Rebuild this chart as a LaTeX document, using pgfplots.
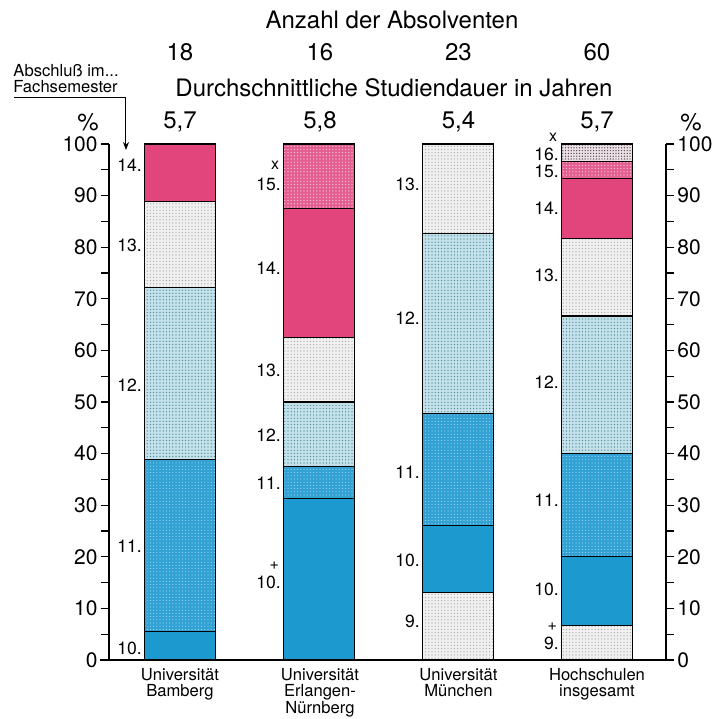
\documentclass[border=0pt]{standalone}
\usepackage{fontspec}
\setmainfont{TeX Gyre Heros}
\usepackage{pgfplots}
\pgfplotsset{compat=1.18}
\usetikzlibrary{patterns,patterns.meta,arrows.meta}
\definecolor{bsolid}{RGB}{28,154,208}
\definecolor{btex}{RGB}{50,162,212}
\definecolor{lblue}{RGB}{196,224,234}
\definecolor{lgray}{RGB}{240,240,240}
\definecolor{pinkc}{RGB}{226,68,124}
\definecolor{pinkl}{RGB}{228,95,145}
\definecolor{lpink}{RGB}{236,224,230}
\newcommand{\seg}[3]{\node[anchor=east,inner sep=0pt,font=\fontsize{8.8}{9}\selectfont] at (axis cs:#1-0.272,#2) {#3};}
\newcommand{\mk}[3]{\node[anchor=east,inner sep=0pt,font=\fontsize{8}{8}\selectfont] at (axis cs:#1-0.285,#2) {#3};}
\begin{document}
\begin{tikzpicture}[x=1pt,y=1pt]
\useasboundingbox (-54.5,-29.5) rectangle (302.5,330);
\begin{axis}[
  at={(0,0)}, anchor=south west,
  scale only axis, width=278.5pt, height=258pt,
  xmin=-0.511, xmax=3.496, ymin=0, ymax=100,
  ybar stacked, bar width=35.5pt,
  axis x line=none, axis y line*=left,
  ytick={0,10,...,100}, minor ytick={5,15,...,95},
  tick align=outside, major tick length=4pt, minor tick length=4pt,
  every tick/.style={black, line width=0.6pt},
  axis line style={line width=0.7pt},
  yticklabel style={font=\fontsize{10.5}{12}\selectfont, inner sep=1.5pt},
  /pgf/number format/assume math mode=true,
  clip=false,
  every axis plot/.append style={draw=black, line width=0.6pt},
]
\addplot[fill=lgray, postaction={pattern={Dots[distance=1.6pt,radius=0.28pt]}, pattern color=gray!80}] coordinates {(0,0) (1,0) (2,13.04) (3,6.67)};
\addplot[fill=bsolid] coordinates {(0,5.56) (1,31.25) (2,13.04) (3,13.33)};
\addplot[fill=btex, postaction={pattern={Dots[distance=1.6pt,radius=0.25pt]}, pattern color=white!70!bsolid}] coordinates {(0,33.33) (1,6.25) (2,21.74) (3,20)};
\addplot[fill=lblue, postaction={pattern={Dots[distance=1.6pt,radius=0.3pt]}, pattern color=teal!60!gray}] coordinates {(0,33.33) (1,12.5) (2,34.78) (3,26.67)};
\addplot[fill=lgray, postaction={pattern={Dots[distance=1.6pt,radius=0.28pt]}, pattern color=gray!80}] coordinates {(0,16.67) (1,12.5) (2,17.39) (3,15)};
\addplot[fill=pinkc] coordinates {(0,11.11) (1,25) (2,0) (3,11.67)};
\addplot[fill=pinkl, postaction={pattern={Dots[distance=1.6pt,radius=0.3pt]}, pattern color=white!80!pinkc}] coordinates {(0,0) (1,12.5) (2,0) (3,3.33)};
\addplot[fill=lpink, postaction={pattern={Dots[distance=1.4pt,radius=0.35pt]}, pattern color=black!70}] coordinates {(0,0) (1,0) (2,0) (3,3.33)};
% segment labels
\seg{0}{95.9}{14.}\seg{0}{80.4}{13.}\seg{0}{53.3}{12.}\seg{0}{22.1}{11.}\seg{0}{2.3}{10.}
\mk{1}{95.8}{x}\seg{1}{92.2}{15.}\seg{1}{75.9}{14.}\seg{1}{56.2}{13.}\seg{1}{43.6}{12.}\seg{1}{34.3}{11.}\mk{1}{18.3}{+}\seg{1}{15.1}{10.}
\seg{2}{92.1}{13.}\seg{2}{66.3}{12.}\seg{2}{36.4}{11.}\seg{2}{19.4}{10.}\seg{2}{7.4}{9.}
\mk{3}{101.3}{x}\seg{3}{98.0}{16.}\seg{3}{94.6}{15.}\seg{3}{87.6}{14.}\seg{3}{74.6}{13.}\seg{3}{53.9}{12.}\seg{3}{31.0}{11.}\seg{3}{13.6}{10.}\mk{3}{6.4}{+}\seg{3}{3.3}{9.}
\end{axis}
\begin{axis}[
  at={(0,0)}, anchor=south west,
  scale only axis, width=278.5pt, height=258pt,
  xmin=-0.511, xmax=3.496, ymin=0, ymax=100,
  axis x line=none, axis y line*=right,
  ytick={0,10,...,100}, minor ytick={5,15,...,95},
  tick align=outside, major tick length=4pt, minor tick length=4pt,
  every tick/.style={black, line width=0.6pt},
  axis line style={line width=0.7pt},
  yticklabel style={font=\fontsize{10.5}{12}\selectfont, inner sep=1.5pt},
  /pgf/number format/assume math mode=true,
]
\end{axis}
\draw[line width=0.7pt] (-4.5,0) -- (282,0);
% top texts
\node[font=\fontsize{12}{14}\selectfont] at (141.5,320) {Anzahl der Absolventen};
\node[font=\fontsize{12}{14}\selectfont] at (142.5,286) {Durchschnittliche Studiendauer in Jahren};
\foreach \xx/\a/\b in {35.5/18/{5,7}, 105.5/16/{5,8}, 174.75/23/{5,4}, 244/60/{5,7}}{
  \node[font=\fontsize{12}{14}\selectfont] at (\xx,304) {\a};
  \node[font=\fontsize{12}{14}\selectfont] at (\xx,269) {\b};
}
\node[font=\fontsize{12}{14}\selectfont] at (-10.5,269) {\%};
\node[font=\fontsize{12}{14}\selectfont] at (291,269) {\%};
% Abschluss annotation
\node[anchor=base west, inner sep=0pt, font=\fontsize{8.3}{8}\selectfont] at (-48,291.8) {Abschluß im...};
\node[anchor=base west, inner sep=0pt, font=\fontsize{8.3}{8}\selectfont] at (-48,283.6) {Fachsemester};
\draw[line width=0.5pt, -{Stealth[length=4pt,width=3pt]}] (-47.5,281) -- (8.5,281) -- (8.5,255);
% category labels
\foreach \xx/\t in {35.5/{Universität\\Bamberg}, 105.5/{Universität\\Erlangen-\\Nürnberg}, 174.75/{Universität\\München}, 244/{Hochschulen\\insgesamt}}{
  \node[anchor=north, align=center, inner sep=0pt, font=\fontsize{8.3}{7.8}\selectfont] at (\xx,-4) {\t};
}
\end{tikzpicture}
\end{document}
